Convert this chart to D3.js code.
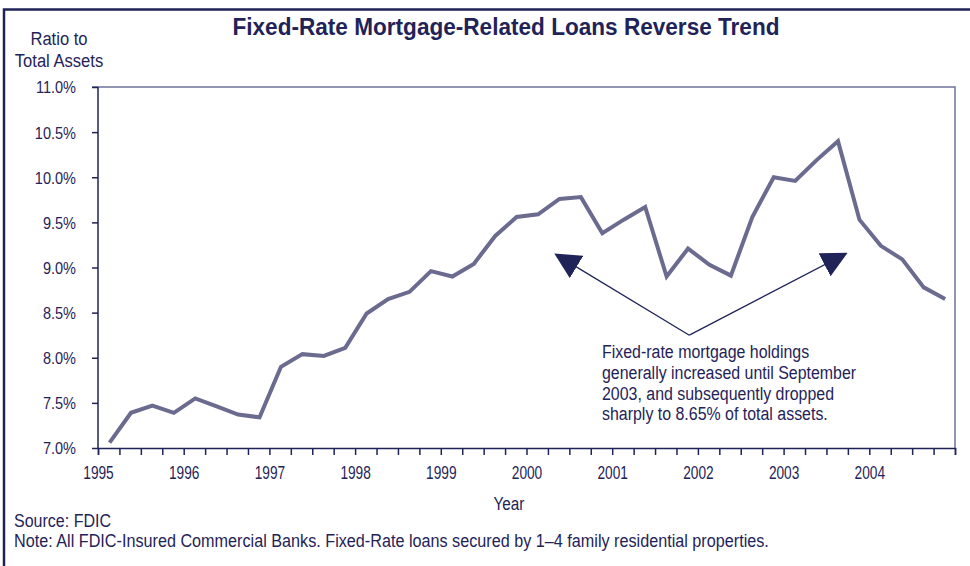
<!DOCTYPE html>
<html>
<head>
<meta charset="utf-8">
<script src="https://cdn.jsdelivr.net/npm/d3@7"></script>
<style>
  body { margin: 0; background: #fff; }
  text { font-family: "Liberation Sans", Arial, sans-serif; fill: #1f2358; }
</style>
</head>
<body>
<div id="chart"></div>
<script>
// quarterly ratio of fixed-rate mortgage loans to total assets, 1995 Q1 .. 2004 Q4 (%)
var years = [1995, 1996, 1997, 1998, 1999, 2000, 2001, 2002, 2003, 2004];
var ratio = [
    7.06, 7.39, 7.47, 7.39,
    7.55, 7.46, 7.37, 7.34,
    7.90, 8.04, 8.02, 8.11,
    8.49, 8.65, 8.73, 8.96,
    8.90, 9.04, 9.35, 9.56,
    9.59, 9.76, 9.78, 9.38,
    9.53, 9.67, 8.90, 9.21,
    9.03, 8.91, 9.56, 10.00,
    9.96, 10.19, 10.40, 9.53,
    9.24, 9.09, 8.78, 8.65
];
var yTicks = [7.0, 7.5, 8.0, 8.5, 9.0, 9.5, 10.0, 10.5, 11.0];
var note = ["Fixed-rate mortgage holdings",
            "generally increased until September",
            "2003, and subsequently dropped",
            "sharply to 8.65% of total assets."];

// squeeze text horizontally, the original uses a condensed face
var condense = function(sel, k) {
    sel.each(function() {
        var w = this.getComputedTextLength();
        d3.select(this)
          .attr("textLength", w * k)
          .attr("lengthAdjust", "spacingAndGlyphs");
    });
};

var chart = function(data) {
    var width = 970, height = 566;
    var margin = {top: 87, left: 98, right: 15, bottom: 118};

    var svg = d3.select("#chart")
                .append("svg")
                .attr("width", width)
                .attr("height", height);

    // outer frame (runs off the right and bottom edges)
    svg.append("rect")
       .attr("x", 4).attr("y", 9.5)
       .attr("width", 990).attr("height", 600)
       .attr("fill", "none")
       .attr("stroke", "#1f2358")
       .attr("stroke-width", 2.5);

    svg.append("text")
       .attr("x", 506).attr("y", 35)
       .attr("text-anchor", "middle")
       .style("font-size", "23px")
       .style("font-weight", "bold")
       .text("Fixed-Rate Mortgage-Related Loans Reverse Trend")
       .call(function(t) { t.attr("textLength", 547).attr("lengthAdjust", "spacingAndGlyphs"); });

    var x = d3.scaleLinear()
              .domain([1995, 2005])
              .range([margin.left, width - margin.right]);

    var y = d3.scaleLinear()
              .domain([7, 11])
              .range([height - margin.bottom, margin.top]);

    // top and right border of the plot
    svg.append("path")
       .attr("d", "M" + (x(1995) - 6) + "," + y(11) + "H" + x(2005) + "V" + y(7))
       .attr("fill", "none")
       .attr("stroke", "#6e7199")
       .attr("stroke-width", 1.5);

    var yAxis = svg.append("g")
                   .attr("transform", "translate(" + x(1995) + ",0)")
                   .call(d3.axisLeft(y).tickValues(yTicks).tickSize(6).tickPadding(16)
                           .tickFormat(function(d) { return d3.format(".1f")(d) + "%"; }));

    var quarters = d3.range(1995, 2005.01, 0.25);
    svg.append("g")
       .attr("transform", "translate(0," + y(7) + ")")
       .call(d3.axisBottom(x).tickValues(quarters).tickSize(7).tickFormat(""));

    var xLabels = svg.append("g")
       .attr("transform", "translate(0," + y(7) + ")")
       .call(d3.axisBottom(x).tickValues(years).tickSize(0).tickPadding(18).tickFormat(d3.format("d")))
       .call(function(g) { g.select(".domain").remove(); });

    svg.selectAll(".domain").attr("stroke", "#1f2358").attr("stroke-width", 1.5);
    svg.selectAll(".tick line").attr("stroke", "#1f2358").attr("stroke-width", 1.5);
    svg.selectAll(".tick text").attr("fill", "#1f2358");
    yAxis.selectAll(".tick text").style("font-size", "16.5px").attr("dy", "0.36em")
         .call(condense, 0.88);
    xLabels.selectAll(".tick text").style("font-size", "18.5px").attr("dy", "0.72em")
           .call(condense, 0.74);
    yAxis.select(".domain").attr("d", "M0," + y(7) + "V" + y(11));

    // y-axis title
    svg.append("text")
       .attr("x", 59).attr("y", 45)
       .attr("text-anchor", "middle")
       .style("font-size", "18px")
       .text("Ratio to")
       .call(condense, 0.92);
    svg.append("text")
       .attr("x", 59).attr("y", 67)
       .attr("text-anchor", "middle")
       .style("font-size", "18px")
       .text("Total Assets")
       .call(condense, 0.92);

    svg.append("text")
       .attr("x", 509).attr("y", 510)
       .attr("text-anchor", "middle")
       .style("font-size", "18px")
       .text("Year")
       .call(condense, 0.85);

    // the line itself, each point in the middle of its quarter
    var line = d3.line()
                 .x(function(d, i) { return x(1995 + i * 0.25 + 0.135); })
                 .y(function(d) { return y(d); });

    svg.append("path")
       .datum(data)
       .attr("d", line)
       .attr("fill", "none")
       .attr("stroke", "#6b6a8f")
       .attr("stroke-width", 4)
       .attr("stroke-linejoin", "miter");

    // annotation arrows
    svg.append("defs").append("marker")
       .attr("id", "head")
       .attr("viewBox", "0 0 10 10")
       .attr("refX", 9).attr("refY", 5)
       .attr("markerWidth", 26).attr("markerHeight", 26)
       .attr("markerUnits", "userSpaceOnUse")
       .attr("orient", "auto")
       .append("path")
       .attr("d", "M0,0L10,5L0,10z")
       .attr("fill", "#1f2358");

    var apex = [x(2001.9), y(8.25)];
    [[2000.35, 9.14], [2003.72, 9.15]].forEach(function(t) {
        svg.append("line")
           .attr("x1", apex[0]).attr("y1", apex[1])
           .attr("x2", x(t[0])).attr("y2", y(t[1]))
           .attr("stroke", "#1f2358")
           .attr("stroke-width", 1.3)
           .attr("marker-end", "url(#head)");
    });

    svg.append("g")
       .selectAll("text")
       .data(note)
       .enter()
       .append("text")
           .attr("x", 602)
           .attr("y", function(d, i) { return 358 + i * 20.8; })
           .style("font-size", "18px")
           .text(function(d) { return d; })
           .call(condense, 0.885);

    svg.append("text")
       .attr("x", 14).attr("y", 527)
       .style("font-size", "18px")
       .text("Source: FDIC")
       .call(condense, 0.89);
    svg.append("text")
       .attr("x", 14).attr("y", 547)
       .style("font-size", "17.5px")
       .text("Note: All FDIC-Insured Commercial Banks. Fixed-Rate loans secured by 1\u20134 family residential properties.")
       .call(condense, 0.925);
};

chart(ratio);
</script>
</body>
</html>
